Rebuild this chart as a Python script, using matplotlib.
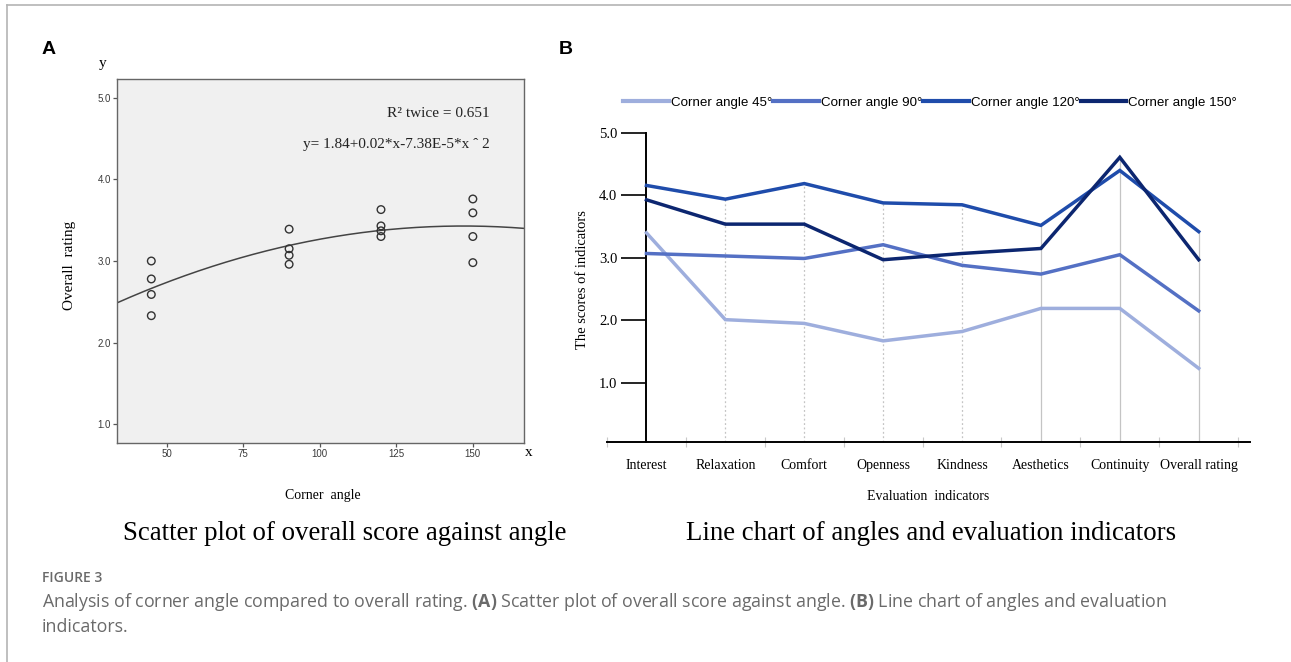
import numpy as np
import matplotlib
matplotlib.use("Agg")
import matplotlib.pyplot as plt
from matplotlib.lines import Line2D

# ---------------- data ----------------
# Panel A: scatter of overall rating vs corner angle
angles = [45, 45, 45, 45, 90, 90, 90, 90, 120, 120, 120, 120, 150, 150, 150, 150]
ratings = [3.00, 2.78, 2.59, 2.33, 3.39, 3.15, 3.07, 2.96,
           3.63, 3.43, 3.37, 3.30, 3.76, 3.59, 3.30, 2.98]
a_xticks = [50, 75, 100, 125, 150]
a_yticks = [1.0, 2.0, 3.0, 4.0, 5.0]

# Panel B: line chart of indicators
indicators = ["Interest", "Relaxation", "Comfort", "Openness", "Kindness",
              "Aesthetics", "Continuity", "Overall rating"]
series_names = ["Corner angle 45°", "Corner angle 90°", "Corner angle 120°", "Corner angle 150°"]
angle45 = [3.40, 2.01, 1.95, 1.67, 1.82, 2.19, 2.19, 1.23]
angle90 = [3.07, 3.03, 2.99, 3.21, 2.88, 2.74, 3.05, 2.15]
angle120 = [4.16, 3.94, 4.19, 3.88, 3.85, 3.52, 4.40, 3.42]
angle150 = [3.93, 3.54, 3.54, 2.97, 3.07, 3.15, 4.61, 2.97]
b_yticks = [1.0, 2.0, 3.0, 4.0, 5.0]
series_colors = ["#9eaedd", "#5470c4", "#1f4cab", "#0c2670"]

SERIF = "Liberation Serif"
SANS = "Liberation Sans"

plt.rcParams["mathtext.fontset"] = "custom"
plt.rcParams["mathtext.rm"] = "Open Sans"
plt.rcParams["mathtext.bf"] = "Open Sans:bold"

W, H = 1291, 662
fig = plt.figure(figsize=(W / 100, H / 100), dpi=100)
fig.patch.set_facecolor("white")


def rect(left, top, right, bottom):
    return [left / W, 1 - bottom / H, (right - left) / W, (bottom - top) / H]


def fx(x):
    return x / W


def fy(y):
    return 1 - y / H


# frame lines of the figure box
fig.add_artist(Line2D([fx(7), 1], [fy(5), fy(5)], color="#b4b4b4", lw=1.2))
fig.add_artist(Line2D([fx(7), fx(7)], [fy(5), 0], color="#b4b4b4", lw=1.2))

# ---------------- Panel A ----------------
axA = fig.add_axes(rect(117, 79, 524, 443))
axA.set_facecolor("#f0f0f0")
axA.set_xlim(33.8, 166.7)
axA.set_ylim(0.77, 5.23)
axA.scatter(angles, ratings, s=30, facecolors="none", edgecolors="#333333", linewidths=1.0, zorder=3)
coef = np.polyfit(angles, ratings, 2)
xs = np.linspace(33.8, 166.7, 300)
axA.plot(xs, np.polyval(coef, xs), color="#444444", lw=1.1, zorder=2)
axA.set_xticks(a_xticks)
axA.set_yticks(a_yticks)
axA.set_xticklabels([str(v) for v in a_xticks])
axA.set_yticklabels([f"{v:.1f}" for v in a_yticks])
axA.tick_params(axis="both", length=3, width=0.9, color="#555555", labelsize=7,
                labelcolor="#3a3a3a", pad=1.5)
for lab in axA.get_xticklabels() + axA.get_yticklabels():
    lab.set_fontfamily(SANS)
for sp in axA.spines.values():
    sp.set_color("#666666")
    sp.set_linewidth(1.0)

axA.text(0.915, 0.905, "R² twice = 0.651", transform=axA.transAxes, ha="right", va="center",
         fontsize=11, fontfamily=SERIF, color="#222222")
axA.text(0.915, 0.82, "y= 1.84+0.02*x-7.38E-5*x ˆ 2", transform=axA.transAxes, ha="right",
         va="center", fontsize=11, fontfamily=SERIF, color="#222222")

fig.text(fx(103), fy(63), "y", ha="center", va="center", fontsize=11, fontfamily=SERIF)
fig.text(fx(529), fy(453), "x", ha="center", va="center", fontsize=11, fontfamily=SERIF)
fig.text(fx(69), fy(265), "Overall  rating", ha="center", va="center", rotation=90,
         fontsize=11, fontfamily=SERIF)
fig.text(fx(323), fy(496), "Corner  angle", ha="center", va="center", fontsize=10, fontfamily=SERIF)
fig.text(fx(49), fy(50), "A", ha="center", va="center", fontsize=14, fontweight="bold", fontfamily=SANS)

# ---------------- Panel B ----------------
axB = fig.add_axes(rect(607, 133, 1250, 442))
axB.set_xlim(-0.5, 7.65)
axB.set_ylim(0.05, 5.0)
xpos = np.arange(len(indicators))
all_series = [angle45, angle90, angle120, angle150]

# guide lines from axis up to top series at each indicator
tops = np.max(np.array(all_series), axis=0)
for i in xpos[1:]:
    ls = (0, (1.5, 2.0)) if i <= 4 else "-"
    axB.vlines(i, 0.05, tops[i], colors="#c4c4c4", lw=0.9, linestyles=ls, zorder=1)

handles = []
for vals, col, name in zip(all_series, series_colors, series_names):
    h, = axB.plot(xpos, vals, color=col, lw=2.5, solid_joinstyle="miter", zorder=3, label=name)
    handles.append(h)

for s in ["top", "right"]:
    axB.spines[s].set_visible(False)
axB.spines["left"].set_position(("data", 0))
axB.spines["left"].set_linewidth(1.4)
axB.spines["bottom"].set_linewidth(1.4)
axB.set_yticks(b_yticks)
axB.set_yticklabels([f"{v:.1f}" for v in b_yticks])
axB.tick_params(axis="y", length=18, width=1.2, labelsize=10.5, pad=3)
for lab in axB.get_yticklabels():
    lab.set_fontfamily(SERIF)
axB.set_xticks(xpos)
axB.set_xticklabels(indicators)
axB.tick_params(axis="x", length=0, labelsize=10, pad=12)
for lab in axB.get_xticklabels():
    lab.set_fontfamily(SERIF)
axB.set_xticks(np.arange(-0.5, 8.0, 1.0), minor=True)
axB.tick_params(axis="x", which="minor", length=7, width=0.8, color="#c8c8c8", direction="inout")

fig.text(fx(583), fy(280), "The scores of indicators", ha="center", va="center", rotation=90,
         fontsize=10.5, fontfamily=SERIF)
fig.text(fx(928), fy(497), "Evaluation  indicators", ha="center", va="center", fontsize=10,
         fontfamily=SERIF)
fig.text(fx(566), fy(50), "B", ha="center", va="center", fontsize=14, fontweight="bold", fontfamily=SANS)

leg = fig.legend(handles=handles, labels=series_names, loc="center",
                 bbox_to_anchor=(fx(930), fy(103)), ncol=4, frameon=False,
                 prop={"family": SANS, "size": 9.6}, handlelength=3.4, handletextpad=0.15,
                 columnspacing=0.1, borderpad=0)
for lh in leg.get_lines():
    lh.set_linewidth(3.0)

# ---------------- titles & caption ----------------
fig.text(fx(345), fy(533), "Scatter plot of overall score against angle", ha="center", va="center",
         fontsize=19.4, fontfamily=SERIF)
fig.text(fx(931), fy(533), "Line chart of angles and evaluation indicators", ha="center",
         va="center", fontsize=19.4, fontfamily=SERIF)

fig.text(fx(42), fy(578), "FIGURE 3", ha="left", va="center", fontsize=10, fontweight="semibold",
         fontfamily="Open Sans", color="#6a6a6a")
fig.text(fx(42), fy(602),
         "Analysis of corner angle compared to overall rating. $\\mathbf{(A)}$ Scatter plot of overall score "
         "against angle. $\\mathbf{(B)}$ Line chart of angles and evaluation",
         ha="left", va="center", fontsize=12.8, fontfamily="Open Sans", color="#6a6a6a")
fig.text(fx(42), fy(627), "indicators.", ha="left", va="center", fontsize=12.8,
         fontfamily="Open Sans", color="#6a6a6a")

fig.savefig("out.png", dpi=100)
